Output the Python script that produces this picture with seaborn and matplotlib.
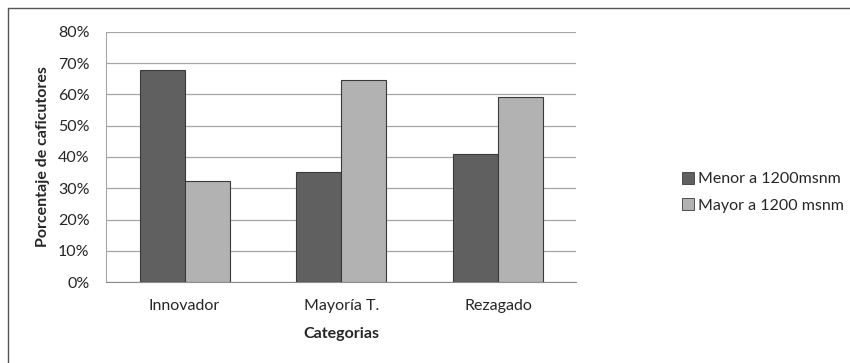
import pandas as pd
import seaborn as sns
import matplotlib.pyplot as plt
from matplotlib.lines import Line2D
from matplotlib.patches import Patch

# Data (percent of coffee growers)
categorias = ['Innovador', 'Mayoría T.', 'Rezagado']
menor_1200 = [67.8, 35.3, 40.9]
mayor_1200 = [32.2, 64.7, 59.1]
series = ['Menor a 1200msnm', 'Mayor a 1200 msnm']

df = pd.DataFrame({
    'categoria': categorias * 2,
    'valor': menor_1200 + mayor_1200,
    'serie': [series[0]] * 3 + [series[1]] * 3,
})

sns.set_style('white')
plt.rcParams['font.family'] = ['Lato', 'DejaVu Sans']

colors = {'Menor a 1200msnm': '#606060', 'Mayor a 1200 msnm': '#b2b2b2'}
fs = 11.5

fig = plt.figure(figsize=(8.5, 3.63), dpi=100)
ax = fig.add_axes([0.125, 0.223, 0.553, 0.689])

sns.barplot(data=df, x='categoria', y='valor', hue='serie', palette=colors,
            width=0.574, gap=0, edgecolor='#3a3a3a', linewidth=0.8,
            errorbar=None, ax=ax, legend=False, zorder=3)

ax.set_ylim(0, 80)
ax.set_xlim(-0.5, 2.5)
ax.set_yticks(range(0, 81, 10))
ax.set_yticklabels([f'{v}%' for v in range(0, 81, 10)], fontsize=fs)
ax.tick_params(axis='x', labelsize=fs, pad=12, length=0)
ax.tick_params(axis='y', pad=12, length=0)
ax.yaxis.grid(True, color='#a6a6a6', linewidth=0.9, zorder=0)
ax.set_axisbelow(True)

for side in ['top', 'right']:
    ax.spines[side].set_visible(False)
ax.spines['left'].set_color('#a6a6a6')
ax.spines['bottom'].set_color('#8c8c8c')

ax.set_xlabel('Categorias', fontsize=fs, fontweight='bold', labelpad=10)
ax.set_ylabel('Porcentaje de caficutores', fontsize=fs, fontweight='bold', labelpad=6)

handles = [Patch(facecolor=colors[s], edgecolor='#3a3a3a', linewidth=0.6) for s in series]
fig.legend(handles, series, loc='center left', bbox_to_anchor=(0.785, 0.47),
           frameon=False, fontsize=fs, handlelength=0.75, handleheight=0.75,
           handletextpad=0.25, labelspacing=0.75)

# partial chart frame (top and left)
fig.add_artist(Line2D([7.5 / 850, 7.5 / 850], [0, 1 - 8 / 363], color='#555555', linewidth=1))
fig.add_artist(Line2D([7.5 / 850, 1], [1 - 8 / 363, 1 - 8 / 363], color='#555555', linewidth=1))

plt.savefig('out.png', dpi=100)
